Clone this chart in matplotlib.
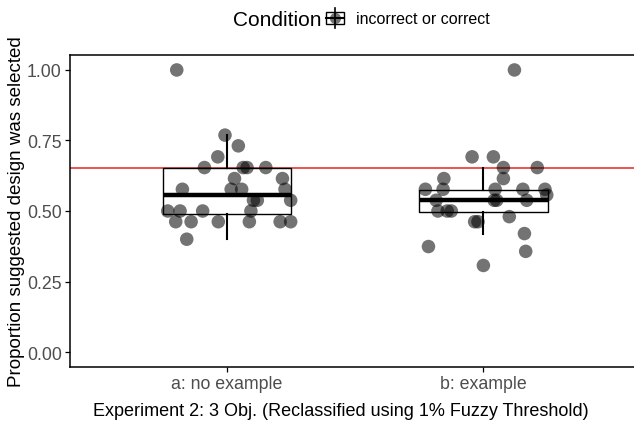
import matplotlib
matplotlib.use("Agg")
import matplotlib.pyplot as plt
from matplotlib.legend_handler import HandlerBase
from matplotlib.patches import Rectangle
from matplotlib.lines import Line2D

plt.rcParams['font.family'] = ['Liberation Sans', 'DejaVu Sans']

# data
categories = ["a: no example", "b: example"]
threshold = 0.654

# jittered points: horizontal offset from category centre, and value
a_jitter = [-0.195, -0.007, 0.045, -0.035, -0.087, 0.064, 0.079, 0.152,
            0.030, 0.217, -0.173, 0.017, 0.058, 0.227, 0.104, 0.119, 0.249,
            -0.230, -0.182, -0.094, 0.094, -0.199, -0.139, -0.033, 0.088,
            0.208, 0.249, -0.156]
a_values = [1.0, 0.769, 0.731, 0.692, 0.654, 0.654, 0.654, 0.654,
            0.615, 0.615, 0.577, 0.577, 0.577, 0.577, 0.538, 0.538, 0.538,
            0.5, 0.5, 0.5, 0.5, 0.462, 0.462, 0.462, 0.462,
            0.462, 0.462, 0.4]

b_jitter = [0.121, -0.044, 0.039, 0.078, 0.210, -0.154, 0.078, -0.226,
            -0.157, 0.046, 0.154, 0.240, 0.247, -0.184, 0.042, 0.052, 0.169,
            -0.177, -0.141, -0.125, 0.101, -0.034, -0.021, 0.160, -0.214,
            0.165, 0.0]
b_values = [1.0, 0.692, 0.692, 0.654, 0.654, 0.615, 0.615, 0.577,
            0.577, 0.577, 0.577, 0.577, 0.557, 0.538, 0.538, 0.538, 0.538,
            0.5, 0.5, 0.5, 0.48, 0.462, 0.462, 0.42, 0.374,
            0.357, 0.307]

# box statistics per category
whislo = [0.4, 0.42]
q1 = [0.491, 0.497]
med = [0.557, 0.538]
q3 = [0.652, 0.576]
whishi = [0.769, 0.651]


class BoxKey(HandlerBase):
    def create_artists(self, legend, orig_handle, xdescent, ydescent,
                       width, height, fontsize, trans):
        x0, y0 = -xdescent, -ydescent
        cx, cy = x0 + width / 2, y0 + height / 2
        box = Rectangle((x0, cy - 0.5 * height), width, height,
                        facecolor='white', edgecolor='black', lw=1.0, transform=trans)
        whisk = Line2D([cx, cx], [cy - 0.75 * height, cy + 0.75 * height],
                       color='black', lw=1.2, transform=trans)
        dot = Line2D([cx], [cy], marker='o', ms=8, color='black', alpha=0.55,
                     mec='none', transform=trans)
        medline = Line2D([x0, x0 + width], [cy, cy], color='black', lw=1.5,
                         transform=trans)
        return [box, whisk, dot, medline]


fig = plt.figure(figsize=(6.34, 4.27), dpi=100)
ax = fig.add_axes([70 / 634, 59 / 427, 564 / 634, 312 / 427])

stats = []
for i in range(len(categories)):
    stats.append(dict(med=med[i], q1=q1[i], q3=q3[i],
                      whislo=whislo[i], whishi=whishi[i], fliers=[]))
ax.bxp(stats, positions=[1, 2], widths=0.5, showfliers=False, showcaps=False,
       patch_artist=True,
       boxprops=dict(facecolor='none', edgecolor='black', lw=1.0),
       whiskerprops=dict(color='black', lw=1.5),
       medianprops=dict(color='black', lw=3.2, solid_capstyle='butt'),
       zorder=2)

ax.axhline(threshold, color='#e8251e', lw=1.1, zorder=1)

ax.scatter([1 + j for j in a_jitter], a_values, s=95, color='black',
           alpha=0.55, edgecolors='none', zorder=3)
ax.scatter([2 + j for j in b_jitter], b_values, s=95, color='black',
           alpha=0.55, edgecolors='none', zorder=3)

ax.set_xlim(0.389, 2.587)
ax.set_ylim(-0.053, 1.053)
ax.set_xticks([1, 2])
ax.set_xticklabels(categories)
ax.set_yticks([0, 0.25, 0.5, 0.75, 1.0])
ax.set_yticklabels(["0.00", "0.25", "0.50", "0.75", "1.00"])
ax.tick_params(axis='both', colors='black', labelcolor='#4d4d4d',
               labelsize=12.8, length=3.5, width=0.9, pad=2.5)
for side in ['left', 'bottom', 'top']:
    ax.spines[side].set_linewidth(1.1)
ax.spines['right'].set_visible(False)

ax.set_ylabel("Proportion suggested design was selected", fontsize=13.5)
ax.yaxis.set_label_coords(-45 / 564, 0.5)
ax.set_xlabel("Experiment 2: 3 Obj. (Reclassified using 1% Fuzzy Threshold)",
              fontsize=13)
ax.xaxis.set_label_coords((341 - 70) / 564, -35 / 312)

fig.text(233 / 634, 1 - 20 / 427, "Condition", fontsize=15, va='center')
handle = Rectangle((0, 0), 1, 1)
fig.legend([handle], ["incorrect or correct"], handler_map={Rectangle: BoxKey()},
           loc='center left', bbox_to_anchor=(326 / 634, 1 - 20 / 427),
           frameon=False, fontsize=11.5, handlelength=1.1, handleheight=0.85,
           handletextpad=0.75, borderpad=0, borderaxespad=0)

fig.savefig("out.png", dpi=100)
